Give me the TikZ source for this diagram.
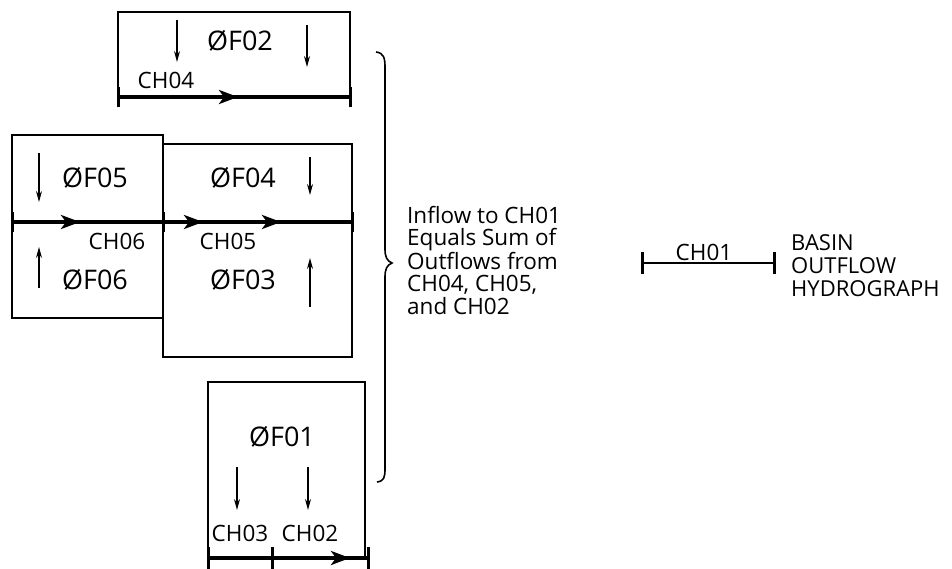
\documentclass[tikz,border=0pt]{standalone}
\usepackage{fontspec}
\setmainfont{Open Sans}
\usetikzlibrary{arrows.meta}
\tikzset{
  basin/.style={draw, line width=1.6pt},
  chan/.style={line width=3.4pt},
  chtick/.style={line width=3pt},
  chhead/.style={-{Stealth[length=19pt,width=14pt,inset=5pt]}, line width=3.4pt},
  flow/.style={-{Stealth[length=11pt,width=6pt]}, line width=1.3pt},
  sub/.style={font=\fontsize{27}{27}\selectfont, inner sep=0pt},
  chl/.style={font=\fontsize{22.5}{22.5}\selectfont, inner sep=0pt},
  note/.style={font=\fontsize{22.5}{22.3}\selectfont, inner sep=0pt, align=left, anchor=base west},
}
\begin{document}
\begin{tikzpicture}[x=1pt,y=-1pt]
\useasboundingbox (0,0) rectangle (952,569);
% basin boxes
\draw[basin] (118,97) -- (118,12) -- (350,12) -- (350,97);
\draw[basin] (12,222) -- (12,135) -- (163,135) -- (163,318) -- (12,318) -- cycle;
\draw[basin] (163,144) rectangle (352,357);
\draw[basin] (208,558) -- (208,382) -- (365,382) -- (365,558);
% CH04
\coordinate (c4a) at (118,97); \coordinate (c4b) at (350,97);
\draw[chan] (c4a) -- (c4b);
\draw[chtick] (118,87) -- (118,107); \draw[chtick] (350,87) -- (350,107);
\draw[chhead] (215,97) -- (238,97);
% CH06 / CH05
\coordinate (c6a) at (12,222); \coordinate (c5b) at (352,222);
\draw[chan] (c6a) -- (c5b);
\draw[chtick] (12,212) -- (12,232); \draw[chtick] (163,212) -- (163,232); \draw[chtick] (352,212) -- (352,232);
\draw[chhead] (58,222) -- (80,222);
\draw[chhead] (181,222) -- (203,222);
\draw[chhead] (259,222) -- (281,222);
% CH03 / CH02
\coordinate (c3a) at (208,558); \coordinate (c2b) at (368,558);
\draw[chan] (c3a) -- (c2b);
\draw[chtick] (208,547) -- (208,569); \draw[chtick] (272,547) -- (272,569); \draw[chtick] (368,547) -- (368,569);
\draw[chhead] (328,558) -- (350,558);
% CH01
\coordinate (c1a) at (642,263); \coordinate (c1b) at (774,263);
\draw[chan, line width=2.4pt] (c1a) -- (c1b);
\draw[chtick] (642,252) -- (642,274); \draw[chtick] (774,252) -- (774,274);
% flow arrows
\draw[flow] (177,20) -- (177,62);
\draw[flow] (307,25) -- (307,67);
\draw[flow] (39,153) -- (39,202);
\draw[flow] (39,288) -- (39,247);
\draw[flow] (310,157) -- (310,195);
\draw[flow] (310,307) -- (310,258);
\draw[flow] (237,467) -- (237,510);
\draw[flow] (308,467) -- (308,510);
% labels
\node[sub] (f02) at (240,41) {ØF02};
\node[sub] (f05) at (95,178) {ØF05};
\node[sub] (f06) at (95,280) {ØF06};
\node[sub] (f04) at (243,178) {ØF04};
\node[sub] (f03) at (243,280) {ØF03};
\node[sub] (f01) at (282,437) {ØF01};
\node[chl] (l4) at (166,80) {CH04};
\node[chl] (l6) at (117,241) {CH06};
\node[chl] (l5) at (228,241) {CH05};
\node[chl] (l3) at (240,533) {CH03};
\node[chl] (l2) at (310,533) {CH02};
\node[chl] (l1) at (704,252) {CH01};
% brace
\draw[line width=1.6pt] (376,52) .. controls (384,53) and (385,58) .. (385,68) -- (385,249)
  .. controls (385,257) and (387,261) .. (392,263)
  .. controls (387,265) and (385,269) .. (385,277) -- (385,468)
  .. controls (385,478) and (384,481) .. (377,482);
\node[note] (n1) at (407,314) {Inflow to CH01\\Equals Sum of\\Outflows from\\CH04, CH05,\\and CH02};
\node[note, font=\fontsize{22}{23}\selectfont] (n2) at (791,296) {BASIN\\OUTFLOW\\HYDROGRAPH};
\end{tikzpicture}
\end{document}
